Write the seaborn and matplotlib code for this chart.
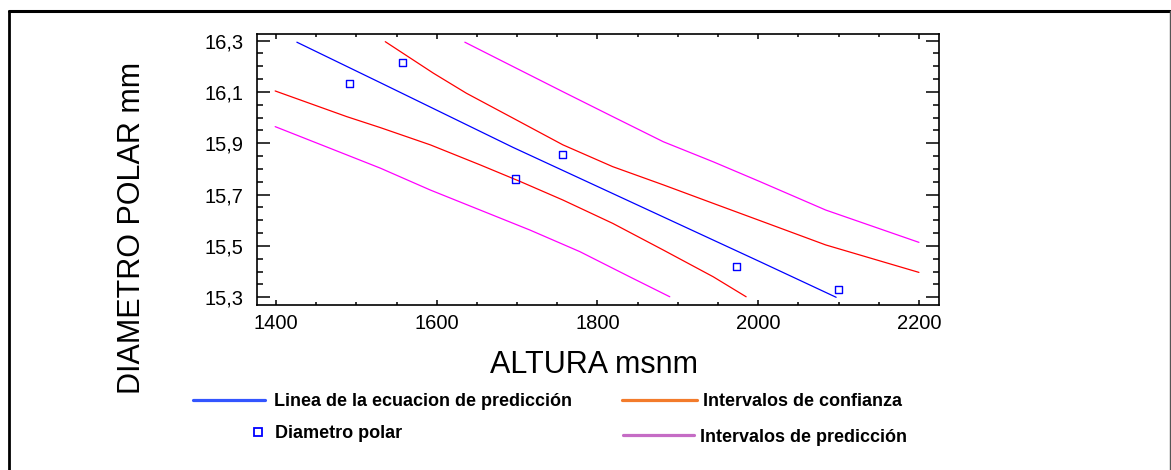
import matplotlib
matplotlib.use("Agg")
import matplotlib.pyplot as plt
import seaborn as sns
from matplotlib.lines import Line2D
from matplotlib.ticker import MultipleLocator

# observed points (altura msnm, diametro polar mm)
altura = [1492, 1557, 1698, 1757, 1973, 2100]
diametro = [16.134, 16.216, 15.761, 15.857, 15.421, 15.331]

# fitted regression line
fit_x = [1426, 1530, 1695, 2002, 2097]
fit_y = [16.294, 16.136, 15.884, 15.439, 15.300]

# confidence limits
ci_up_x = [1536, 1596, 1637, 1695, 1757, 1819, 1882, 1944, 2002, 2084, 2200]
ci_up_y = [16.296, 16.173, 16.095, 15.998, 15.894, 15.809, 15.738, 15.666, 15.599, 15.504, 15.397]
ci_lo_x = [1399, 1488, 1530, 1592, 1654, 1704, 1757, 1819, 1882, 1944, 1985]
ci_lo_y = [16.104, 16.004, 15.961, 15.894, 15.816, 15.751, 15.679, 15.588, 15.484, 15.380, 15.302]

# prediction limits
pi_up_x = [1635, 1695, 1757, 1819, 1882, 1944, 2002, 2084, 2200]
pi_up_y = [16.294, 16.199, 16.101, 16.004, 15.906, 15.828, 15.751, 15.640, 15.514]
pi_lo_x = [1399, 1488, 1530, 1592, 1654, 1716, 1778, 1840, 1890]
pi_lo_y = [15.965, 15.855, 15.803, 15.718, 15.640, 15.562, 15.478, 15.380, 15.302]

xticks = [1400, 1600, 1800, 2000, 2200]
yticks = [15.3, 15.5, 15.7, 15.9, 16.1, 16.3]
ytick_labels = ["15,3", "15,5", "15,7", "15,9", "16,1", "16,3"]

sns.set_style("ticks")
plt.rcParams['font.family'] = ['Liberation Sans', 'DejaVu Sans']
plt.rcParams['text.color'] = 'black'
plt.rcParams['axes.labelcolor'] = 'black'

fig = plt.figure(figsize=(11.71, 4.70), dpi=100)
ax = fig.add_axes([0.2192, 0.3511, 0.5827, 0.5766])

# curves
for xs, ys in [(ci_up_x, ci_up_y), (ci_lo_x, ci_lo_y)]:
    sns.lineplot(x=xs, y=ys, ax=ax, color='#ff0000', lw=0.9, sort=False, estimator=None)
for xs, ys in [(pi_up_x, pi_up_y), (pi_lo_x, pi_lo_y)]:
    sns.lineplot(x=xs, y=ys, ax=ax, color='#ff00ff', lw=0.9, sort=False, estimator=None)
sns.lineplot(x=fit_x, y=fit_y, ax=ax, color='#0000ff', lw=0.9, sort=False, estimator=None)

sns.scatterplot(x=altura, y=diametro, ax=ax, marker='s', s=26, color='blue', linewidth=1, zorder=5)
pts = ax.collections[-1]
pts.set_facecolor('none')
pts.set_edgecolor('blue')

ax.set_xlim(1376, 2225)
ax.set_ylim(15.27, 16.326)
ax.set_xticks(xticks)
ax.set_xticklabels([str(t) for t in xticks])
ax.set_yticks(yticks)
ax.set_yticklabels(ytick_labels)
ax.xaxis.set_minor_locator(MultipleLocator(50))
ax.yaxis.set_minor_locator(MultipleLocator(0.05))

for sp in ax.spines.values():
    sp.set_visible(True)
    sp.set_linewidth(1.2)
    sp.set_color('black')

ax.tick_params(which='both', direction='in', top=True, right=True, width=1.1, color='black', labelcolor='black')
ax.tick_params(axis='y', which='major', length=9.4, pad=9.6, labelsize=14.5)
ax.tick_params(axis='y', which='minor', length=4.3)
ax.tick_params(axis='x', which='major', length=3.6, pad=6.6, labelsize=14.5)
ax.tick_params(axis='x', which='minor', length=2.2)

ax.set_xlabel("ALTURA msnm", fontsize=22, va='baseline', color='black')
ax.xaxis.set_label_coords(0.4945, -0.2498)
ax.set_ylabel("DIAMETRO POLAR mm", fontsize=22, va='baseline', color='black')
ax.yaxis.set_label_coords(-0.171, 0.284)

# legend entries, laid out like the original
lprop = {'weight': 'bold', 'size': 13}
common = dict(loc='center left', frameon=False, borderpad=0, borderaxespad=0, prop=lprop, labelcolor='black')
fig.legend(handles=[Line2D([], [], color='#3355ff', lw=2.3)], labels=["Linea de la ecuacion de predicción"],
           bbox_to_anchor=(0.1648, 0.1447), handlelength=3.99, handletextpad=0.5, **common)
fig.legend(handles=[Line2D([], [], ls='none', marker='s', mfc='none', mec='blue', ms=6, mew=1.3)],
           labels=["Diametro polar"], bbox_to_anchor=(0.2135, 0.0766), handlelength=0.9, handletextpad=0.5, **common)
fig.legend(handles=[Line2D([], [], color='#f37b2b', lw=2.3)], labels=["Intervalos de confianza"],
           bbox_to_anchor=(0.5309, 0.1447), handlelength=4.15, handletextpad=0.38, **common)
fig.legend(handles=[Line2D([], [], color='#c56cc5', lw=2.3)], labels=["Intervalos de predicción"],
           bbox_to_anchor=(0.532, 0.0702), handlelength=3.93, handletextpad=0.33, **common)

# outer frame (left, top, right)
top = 1 - 10.7 / 470
fig.add_artist(Line2D([8.5 / 1171, 8.5 / 1171], [0, top], transform=fig.transFigure, color='black', lw=2))
fig.add_artist(Line2D([8.5 / 1171, 1170 / 1171], [top, top], transform=fig.transFigure, color='black', lw=2.2))
fig.add_artist(Line2D([1169.5 / 1171, 1169.5 / 1171], [0, top], transform=fig.transFigure, color='#555555', lw=1))

fig.savefig('out.png', dpi=100)
